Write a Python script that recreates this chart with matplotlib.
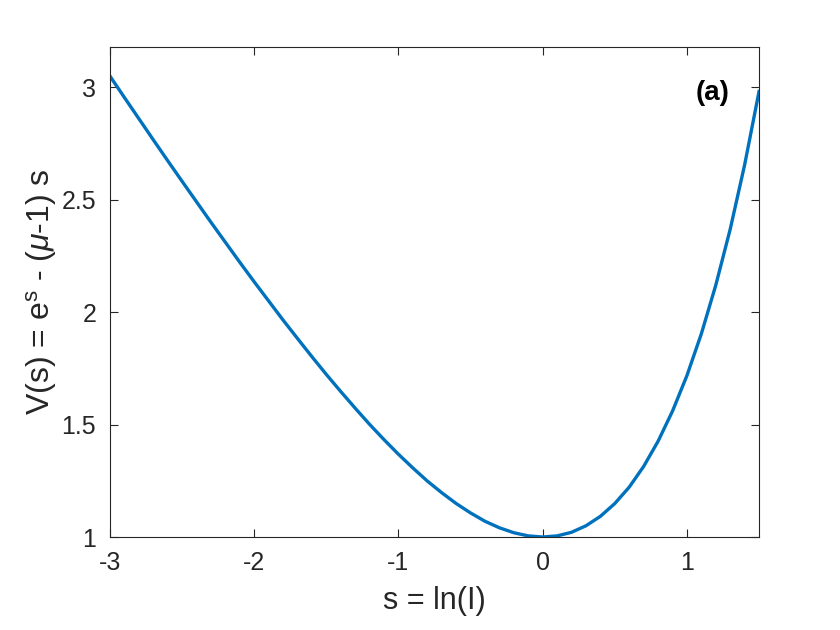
import matplotlib
matplotlib.use('Agg')
import matplotlib.pyplot as plt

plt.rcParams['font.family'] = ['Liberation Sans', 'DejaVu Sans']
plt.rcParams['mathtext.fontset'] = 'custom'
plt.rcParams['mathtext.rm'] = 'Liberation Sans'
plt.rcParams['mathtext.it'] = 'Liberation Sans:italic'

# values
s = [-3.0, -2.9, -2.8, -2.7, -2.6, -2.5, -2.4, -2.3, -2.2, -2.1,
     -2.0, -1.9, -1.8, -1.7, -1.6, -1.5, -1.4, -1.3, -1.2, -1.1,
     -1.0, -0.9, -0.8, -0.7, -0.6, -0.5, -0.4, -0.3, -0.2, -0.1,
     0.0, 0.1, 0.2, 0.3, 0.4, 0.5, 0.6, 0.7, 0.8, 0.9,
     1.0, 1.1, 1.2, 1.3, 1.4, 1.5]
V = [3.050, 2.955, 2.861, 2.767, 2.674, 2.582, 2.491, 2.400, 2.311, 2.222,
     2.135, 2.050, 1.965, 1.883, 1.802, 1.723, 1.647, 1.573, 1.501, 1.433,
     1.368, 1.307, 1.249, 1.197, 1.149, 1.107, 1.070, 1.041, 1.019, 1.005,
     1.000, 1.005, 1.021, 1.050, 1.092, 1.149, 1.222, 1.314, 1.426, 1.560,
     1.718, 1.904, 2.120, 2.369, 2.655, 2.982]

xticks = [-3, -2, -1, 0, 1]
yticks = [1, 1.5, 2, 2.5, 3]

fig = plt.figure(figsize=(8.4, 6.3), dpi=100)
ax = fig.add_axes([0.131, 0.1476, 0.7726, 0.7778])
ax.plot(s, V, color='#0072BD', lw=2.4, solid_joinstyle='round')

ax.set_xlim(-3, 1.5)
ax.set_ylim(1, 3.18)
ax.set_xticks(xticks)
ax.set_xticklabels(['-3', '-2', '-1', '0', '1'])
ax.set_yticks(yticks)
ax.set_yticklabels(['1', '1.5', '2', '2.5', '3'])
ax.tick_params(direction='in', top=True, right=True, labelsize=18,
               length=6, width=0.8, colors='#262626', pad=10)
for sp in ax.spines.values():
    sp.set_color('#262626')
    sp.set_linewidth(0.8)

ax.set_xlabel('s = ln(I)', fontsize=22, color='#262626', labelpad=8)
ax.set_ylabel(r'V(s) = e$^{\rm s}$ - ($\mu$-1) s', fontsize=23, color='#262626', labelpad=2)
ax.text(0.928, 0.906, '(a)', transform=ax.transAxes, fontsize=20,
        fontweight='bold', ha='center', va='center')

fig.savefig('out.png', dpi=100)
